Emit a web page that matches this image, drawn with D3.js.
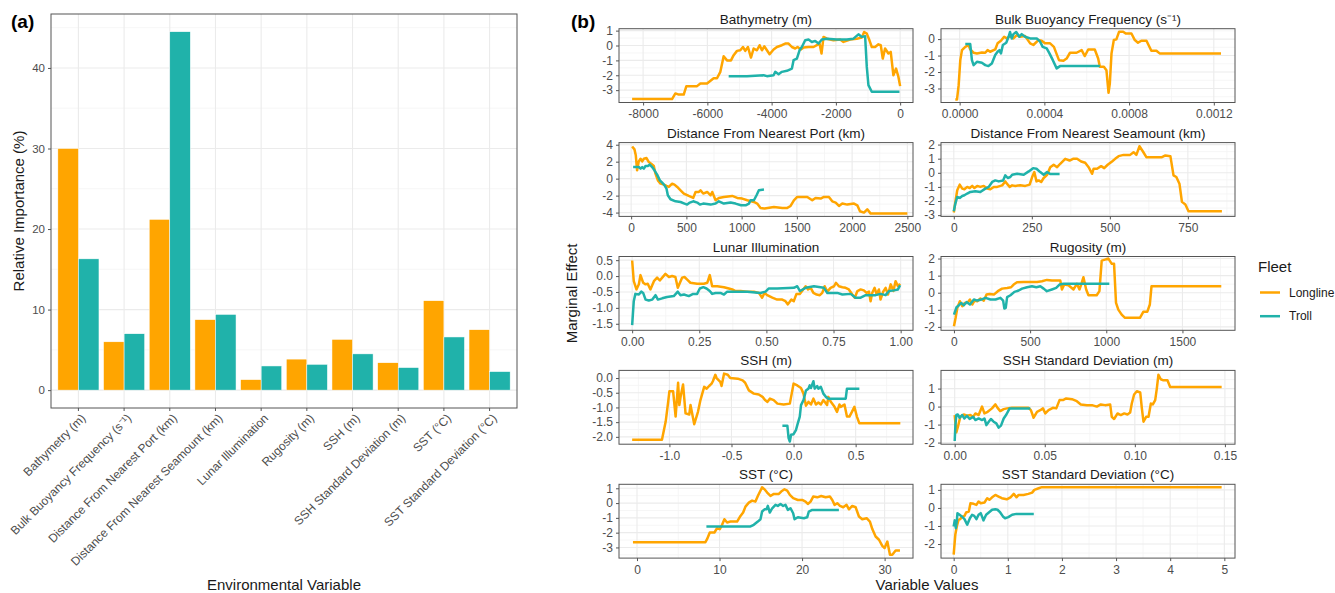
<!DOCTYPE html>
<html>
<head>
<meta charset="utf-8">
<script src="https://cdn.jsdelivr.net/npm/d3@7"></script>
<style>
  body { margin: 0; background: #fff; }
  svg { display: block; font-family: "Liberation Sans", Arial, sans-serif; }
</style>
</head>
<body>
<div id="chart"></div>
<script>
// ---- panel (a) data ----
const variables = [
  'Bathymetry (m)', 'Bulk Buoyancy Frequency (s\u207B\u00B9)', 'Distance From Nearest Port (km)',
  'Distance From Nearest Seamount (km)', 'Lunar Illumination', 'Rugosity (m)', 'SSH (m)',
  'SSH Standard Deviation (m)', 'SST (\u00B0C)', 'SST Standard Deviation (\u00B0C)'
];
const longlineImportance = [30.0, 6.0, 21.2, 8.75, 1.3, 3.85, 6.3, 3.4, 11.1, 7.5];
const trollImportance = [16.3, 7.0, 44.5, 9.4, 3.0, 3.2, 4.5, 2.8, 6.6, 2.3];
const importanceTicks = [0, 10, 20, 30, 40];
const fleets = ['Longline', 'Troll'];

// ---- panel (b) data: [variable value, marginal effect] ----
const bathyLongline = [[-8342,-3.6],[-7099,-3.6],[-6995,-3.22],[-6891,-3.3],[-6736,-3.3],[-6653,-2.73],[-6321,-2.73],[-6217,-2.55],[-6010,-2.55],[-5804,-2.2],[-5700,-2.2],[-5596,-1.77],[-5493,-0.72],[-5389,-1.0],[-5265,-1.0],[-5182,-0.65],[-5078,-0.36],[-4975,-0.32],[-4892,-0.1],[-4820,-0.36],[-4737,-0.1],[-4643,-0.81],[-4560,-0.2],[-4457,-0.32],[-4374,0.02],[-4301,-0.32],[-4229,-0.05],[-4146,-0.32],[-4063,-0.59],[-3939,-0.27],[-3835,-0.1],[-3680,0.02],[-3576,0.13],[-3473,0.13],[-3369,-0.1],[-3266,-0.2],[-3193,-0.1],[-3089,-0.27],[-3006,-0.14],[-2851,-0.1],[-2696,-0.1],[-2592,0.02],[-2509,0.13],[-2447,-0.54],[-2385,0.58],[-2281,0.46],[-2074,0.35],[-1867,0.4],[-1764,0.24],[-1557,0.4],[-1350,0.46],[-1194,0.53],[-1121,0.91],[-1038,0.8],[-955,0.35],[-883,-0.1],[-779,-0.1],[-676,0.08],[-603,0.02],[-541,-0.88],[-469,-0.2],[-365,-0.54],[-293,-0.43],[-210,-2.0],[-127,-1.55],[-55,-2.1],[0,-2.73]];
const bathyTroll = [[-5337,-2.06],[-4767,-2.06],[-4250,-2.0],[-4146,-2.06],[-3939,-2.0],[-3887,-1.77],[-3783,-1.93],[-3680,-1.77],[-3524,-1.7],[-3369,-1.55],[-3317,-0.99],[-3214,-0.88],[-3131,-0.32],[-3059,-0.1],[-2955,0.35],[-2851,0.4],[-2748,0.24],[-2644,0.31],[-2540,0.13],[-2437,0.4],[-2281,0.46],[-1970,0.4],[-1660,0.4],[-1453,0.46],[-1298,0.75],[-1194,0.58],[-1090,0.62],[-1038,-1.44],[-987,-2.66],[-883,-3.11],[-21,-3.11]];

const buoyLongline = [[-0.0000204,-3.67],[-0.0000125,-3.67],[-0.0000047,-2.8],[0.0000031,-1.28],[0.000011,-0.67],[0.0000267,-0.47],[0.0000424,-0.36],[0.00005,-0.63],[0.0000659,-0.83],[0.0000816,-0.87],[0.000105,-0.81],[0.000121,-0.83],[0.000132,-0.67],[0.000144,-0.77],[0.000168,-0.63],[0.000179,-0.26],[0.000195,-0.1],[0.00021,0.14],[0.000223,0.04],[0.000238,0.18],[0.000254,0.04],[0.00027,0.24],[0.000285,0.14],[0.000309,0.18],[0.000333,-0.26],[0.000348,-0.36],[0.000372,-0.06],[0.000387,-0.1],[0.000403,-0.26],[0.000427,-0.26],[0.000445,-0.47],[0.000458,-0.91],[0.000469,-1.28],[0.00049,-1.32],[0.000505,-1.18],[0.000521,-0.83],[0.000552,-0.83],[0.000576,-0.67],[0.000591,-1.03],[0.000607,-0.63],[0.000638,-0.63],[0.000654,-1.18],[0.000662,-1.68],[0.000681,-1.68],[0.000693,-1.89],[0.000703,-3.26],[0.000709,-2.7],[0.000717,-0.87],[0.000728,-0.06],[0.00074,-0.02],[0.000753,0.45],[0.000772,0.45],[0.000784,0.34],[0.000811,0.34],[0.000827,-0.06],[0.000842,-0.22],[0.000858,-0.1],[0.000882,-0.1],[0.000905,-0.71],[0.000929,-0.71],[0.000944,-0.87],[0.001234,-0.87]];
const buoyTroll = [[0.0000267,-0.3],[0.00005,-0.3],[0.000058,-1.28],[0.0000659,-1.58],[0.0000816,-1.38],[0.000105,-1.44],[0.000121,-1.58],[0.000136,-1.64],[0.000152,-1.48],[0.000168,-0.97],[0.000179,-0.77],[0.000188,-0.67],[0.000195,-0.87],[0.000204,-0.36],[0.00022,-0.22],[0.000231,0.14],[0.000238,0.43],[0.000246,0.04],[0.000254,0.3],[0.000267,0.43],[0.000282,0.14],[0.000293,0.3],[0.000309,0.14],[0.000333,0.04],[0.000364,0.04],[0.00038,-0.16],[0.000392,-0.47],[0.000411,-0.57],[0.000424,-0.87],[0.00044,-1.28],[0.000458,-1.78],[0.000474,-1.64],[0.000662,-1.64]];

const portLongline = [[9,3.8],[30,3.45],[42,2.75],[54,0.98],[69,2.04],[85,2.35],[100,2.04],[115,2.35],[139,2.43],[160,1.96],[181,1.76],[205,1.49],[220,0.59],[242,-0.2],[266,-0.59],[296,-0.7],[320,-0.86],[341,-0.98],[371,-0.59],[392,-0.7],[417,-0.98],[447,-1.37],[477,-1.76],[522,-2.04],[562,-2.27],[583,-1.57],[613,-1.57],[628,-1.37],[652,-1.76],[688,-1.57],[719,-1.96],[734,-1.57],[764,-2.55],[794,-2.27],[839,-2.16],[915,-2.04],[960,-2.27],[1005,-2.35],[1051,-2.55],[1111,-2.75],[1141,-2.94],[1171,-3.45],[1208,-3.53],[1292,-3.33],[1368,-3.45],[1413,-3.45],[1443,-3.22],[1473,-2.55],[1503,-2.16],[1594,-2.16],[1639,-2.55],[1669,-2.27],[1715,-2.35],[1745,-2.16],[1790,-2.16],[1820,-2.67],[1851,-2.82],[1881,-3.22],[1911,-2.94],[1956,-3.06],[2017,-2.94],[2047,-3.14],[2071,-3.84],[2107,-4.0],[2137,-3.61],[2168,-4.12],[2500,-4.12]];
const portTroll = [[18,1.37],[69,1.37],[85,1.18],[100,1.37],[115,1.18],[130,1.49],[151,1.49],[169,1.65],[190,1.37],[211,0.98],[235,0.47],[260,-0.2],[281,-0.47],[302,-0.78],[320,-1.18],[332,-1.96],[356,-2.43],[402,-2.67],[447,-2.75],[483,-2.94],[507,-3.06],[531,-2.82],[562,-2.67],[598,-2.82],[622,-3.06],[652,-2.94],[719,-3.06],[764,-2.94],[794,-2.67],[839,-2.94],[900,-2.82],[945,-2.94],[994,-3.14],[1036,-3.14],[1066,-2.94],[1081,-2.55],[1111,-2.55],[1135,-1.96],[1156,-1.37],[1202,-1.29]];

const seamountLongline = [[0,-2.81],[5,-2.06],[11,-1.24],[19,-0.84],[27,-1.12],[34,-1.17],[43,-1.0],[51,-1.08],[59,-0.93],[66,-1.08],[75,-0.93],[85,-1.0],[96,-0.93],[107,-1.12],[117,-1.17],[128,-1.0],[139,-1.0],[155,-0.89],[165,-0.61],[173,-0.84],[179,-1.0],[187,-0.89],[197,-0.93],[213,-0.89],[229,-0.93],[243,-0.84],[251,-0.3],[258,0.05],[265,-0.61],[272,-0.54],[280,-0.65],[288,-0.37],[299,-0.14],[309,0.4],[320,0.57],[331,0.4],[341,0.64],[357,0.99],[371,0.87],[382,0.99],[395,0.99],[408,0.8],[421,0.71],[432,0.4],[443,-0.07],[448,0.29],[459,0.29],[472,0.47],[482,0.33],[493,0.57],[507,0.8],[517,0.99],[528,1.18],[544,1.27],[565,1.27],[576,1.46],[585,1.27],[595,1.88],[606,1.51],[617,1.11],[651,1.11],[667,1.11],[678,1.23],[694,1.18],[704,-0.18],[713,-0.3],[723,-0.77],[731,-2.06],[742,-2.25],[752,-2.72],[859,-2.72]];
const seamountTroll = [[0,-2.72],[5,-2.18],[11,-1.71],[19,-1.78],[27,-1.64],[34,-1.59],[43,-1.47],[53,-1.36],[69,-1.31],[85,-1.36],[101,-1.12],[112,-1.0],[123,-0.65],[133,-0.54],[144,-0.61],[158,-0.54],[165,-0.18],[173,-0.37],[181,-0.3],[187,-0.14],[203,-0.07],[224,-0.14],[240,0.1],[254,0.33],[265,0.29],[277,0.05],[288,-0.14],[299,0.05],[309,-0.09],[339,-0.09]];

const lunarLongline = [[0,0.49],[0.006,-0.16],[0.016,-0.42],[0.025,-0.26],[0.031,0.03],[0.041,-0.21],[0.05,-0.26],[0.058,-0.24],[0.068,-0.42],[0.081,-0.16],[0.093,-0.05],[0.103,-0.14],[0.112,-0.05],[0.124,0.07],[0.137,-0.03],[0.149,0.0],[0.161,-0.03],[0.17,-0.37],[0.178,-0.21],[0.186,-0.05],[0.195,-0.03],[0.205,-0.11],[0.217,-0.21],[0.242,-0.24],[0.267,-0.24],[0.28,-0.21],[0.289,0.03],[0.298,-0.32],[0.317,-0.32],[0.342,-0.35],[0.36,-0.39],[0.373,-0.42],[0.385,-0.47],[0.404,-0.47],[0.429,-0.49],[0.453,-0.49],[0.472,-0.53],[0.484,-0.68],[0.493,-0.53],[0.503,-0.6],[0.522,-0.68],[0.54,-0.74],[0.559,-0.74],[0.571,-0.79],[0.58,-0.89],[0.593,-0.74],[0.602,-0.79],[0.612,-0.56],[0.625,-0.56],[0.637,-0.42],[0.646,-0.32],[0.655,-0.42],[0.665,-0.37],[0.675,-0.53],[0.687,-0.58],[0.699,-0.6],[0.708,-0.53],[0.717,-0.32],[0.727,-0.49],[0.739,-0.37],[0.752,-0.32],[0.759,-0.21],[0.77,-0.32],[0.783,-0.35],[0.795,-0.37],[0.807,-0.42],[0.82,-0.58],[0.829,-0.68],[0.839,-0.47],[0.851,-0.42],[0.863,-0.45],[0.873,-0.53],[0.882,-0.49],[0.888,-0.79],[0.894,-0.53],[0.903,-0.37],[0.911,-0.58],[0.919,-0.42],[0.925,-0.74],[0.935,-0.49],[0.944,-0.37],[0.953,-0.58],[0.963,-0.26],[0.973,-0.47],[0.981,-0.16],[0.99,-0.32],[0.998,-0.24]];
const lunarTroll = [[0,-1.54],[0.006,-0.79],[0.012,-0.56],[0.025,-0.58],[0.034,-0.49],[0.041,-0.53],[0.05,-0.74],[0.062,-0.77],[0.075,-0.74],[0.087,-0.6],[0.096,-0.74],[0.112,-0.7],[0.13,-0.66],[0.155,-0.63],[0.17,-0.49],[0.18,-0.6],[0.193,-0.58],[0.211,-0.63],[0.227,-0.56],[0.242,-0.56],[0.252,-0.39],[0.265,-0.35],[0.277,-0.39],[0.289,-0.47],[0.298,-0.56],[0.311,-0.53],[0.329,-0.53],[0.342,-0.58],[0.354,-0.49],[0.379,-0.49],[0.429,-0.49],[0.478,-0.53],[0.497,-0.49],[0.509,-0.39],[0.54,-0.39],[0.602,-0.37],[0.615,-0.32],[0.625,-0.47],[0.646,-0.37],[0.677,-0.32],[0.714,-0.37],[0.727,-0.53],[0.764,-0.53],[0.783,-0.58],[0.814,-0.56],[0.832,-0.68],[0.851,-0.68],[0.87,-0.6],[0.907,-0.6],[0.925,-0.56],[0.944,-0.6],[0.957,-0.47],[0.975,-0.45],[0.99,-0.42],[0.998,-0.29]];

const rugosityLongline = [[0,-1.96],[11,-1.47],[22,-0.89],[39,-0.5],[55,-0.79],[70,-0.6],[87,-0.6],[105,-0.4],[120,-0.69],[135,-0.46],[153,-0.5],[174,-0.34],[196,-0.46],[214,-0.11],[235,-0.07],[262,-0.11],[288,0.09],[316,0.24],[349,0.28],[375,0.32],[392,0.48],[414,0.61],[458,0.63],[501,0.63],[545,0.63],[578,0.67],[610,0.75],[643,0.71],[698,0.71],[709,0.19],[724,0.48],[752,0.44],[785,0.19],[807,0.52],[824,0.19],[839,0.58],[850,0.91],[868,0.19],[883,-0.15],[937,-0.15],[955,0.09],[970,1.88],[992,1.94],[1014,2.0],[1036,1.69],[1051,1.69],[1064,-0.6],[1079,-0.99],[1101,-1.28],[1123,-1.47],[1221,-1.47],[1243,-1.12],[1269,-1.12],[1286,-0.69],[1297,0.38],[1755,0.38]];
const rugosityTroll = [[0,-1.28],[17,-0.85],[33,-0.73],[48,-0.6],[65,-0.73],[83,-0.54],[105,-0.69],[131,-0.4],[153,-0.46],[179,-0.4],[207,-0.3],[240,-0.4],[273,-0.4],[305,-0.3],[323,-0.46],[331,-0.93],[340,-0.89],[349,-0.26],[371,-0.15],[397,0.05],[425,0.13],[447,0.24],[480,0.32],[512,0.38],[541,0.32],[567,0.38],[589,0.24],[610,0.09],[643,0.19],[671,0.28],[693,0.48],[719,0.52],[1020,0.52]];

const sshLongline = [[-1.3,-2.1],[-1.06,-2.1],[-1.03,-1.48],[-1.01,-0.81],[-1.0,-0.45],[-0.97,-0.45],[-0.95,-1.31],[-0.93,-0.16],[-0.92,-0.92],[-0.91,-0.64],[-0.89,-0.22],[-0.87,-1.2],[-0.84,-1.24],[-0.83,-0.92],[-0.8,-1.57],[-0.77,-1.15],[-0.75,-0.75],[-0.72,-0.3],[-0.7,-0.36],[-0.68,-0.27],[-0.66,-0.19],[-0.65,-0.11],[-0.63,0.11],[-0.62,0.0],[-0.59,-0.13],[-0.58,-0.27],[-0.56,0.15],[-0.53,0.11],[-0.51,0.0],[-0.45,-0.02],[-0.41,-0.08],[-0.39,-0.16],[-0.36,-0.42],[-0.32,-0.53],[-0.28,-0.56],[-0.25,-0.64],[-0.23,-0.75],[-0.21,-0.81],[-0.19,-0.7],[-0.16,-0.75],[-0.13,-0.87],[-0.08,-0.9],[-0.03,-0.87],[0.0,-0.19],[0.03,-0.25],[0.06,-0.34],[0.08,-0.53],[0.1,-0.94],[0.12,-0.81],[0.14,-0.9],[0.16,-0.7],[0.18,-0.9],[0.2,-0.83],[0.22,-0.9],[0.24,-0.75],[0.27,-0.92],[0.28,-0.64],[0.3,-0.81],[0.33,-0.98],[0.35,-1.15],[0.37,-0.9],[0.38,-0.98],[0.41,-0.9],[0.43,-1.31],[0.45,-1.31],[0.47,-1.15],[0.49,-0.98],[0.51,-1.31],[0.53,-1.54],[0.86,-1.54]];
const sshTroll = [[-0.09,-1.62],[-0.05,-1.62],[-0.04,-2.04],[-0.03,-2.16],[-0.02,-1.93],[0.0,-1.91],[0.02,-1.76],[0.03,-1.6],[0.05,-1.31],[0.06,-0.92],[0.08,-0.75],[0.1,-0.42],[0.12,-0.36],[0.13,-0.25],[0.14,-0.34],[0.16,-0.11],[0.17,-0.36],[0.19,-0.27],[0.2,-0.36],[0.22,-0.3],[0.24,-0.53],[0.26,-0.64],[0.28,-0.7],[0.42,-0.7],[0.43,-0.36],[0.53,-0.36]];

const sshSdLongline = [[0.0,-0.47],[0.0009,-1.43],[0.0018,-1.12],[0.0031,-0.57],[0.005,-0.44],[0.0068,-0.51],[0.0087,-0.47],[0.0102,-0.57],[0.0115,-0.38],[0.0133,-0.47],[0.0152,0.0],[0.0165,-0.38],[0.0183,-0.29],[0.0207,-0.1],[0.0226,0.12],[0.0238,-0.07],[0.0253,-0.25],[0.0272,-0.14],[0.029,-0.1],[0.0318,-0.07],[0.0364,-0.07],[0.041,-0.07],[0.0423,-0.2],[0.0438,-0.62],[0.0457,-0.29],[0.0475,-0.2],[0.049,-0.1],[0.0503,-0.38],[0.0521,-0.2],[0.0545,-0.07],[0.0564,-0.1],[0.0582,0.36],[0.0601,0.36],[0.0619,0.45],[0.0651,0.41],[0.0678,0.3],[0.07,0.12],[0.0734,0.08],[0.0762,0.08],[0.0789,0.0],[0.0811,0.12],[0.0835,0.08],[0.0863,0.12],[0.0872,-0.57],[0.0885,-0.69],[0.0904,-0.38],[0.0922,-0.47],[0.0941,-0.38],[0.0959,-0.44],[0.0974,-0.33],[0.0983,0.17],[0.0996,0.67],[0.1011,0.85],[0.103,0.78],[0.1039,-0.1],[0.1048,-0.84],[0.1063,-0.57],[0.1076,-0.57],[0.1089,0.17],[0.11,0.12],[0.1113,0.36],[0.1122,1.0],[0.1131,1.77],[0.1144,1.52],[0.1159,1.46],[0.1181,1.46],[0.1196,1.09],[0.1482,1.09]];
const sshSdTroll = [[0.0,-1.91],[0.0004,-1.03],[0.0009,-0.47],[0.0017,-0.44],[0.0028,-0.62],[0.0041,-0.47],[0.0054,-0.66],[0.0068,-0.51],[0.0083,-0.69],[0.0102,-0.57],[0.0115,-0.75],[0.0133,-0.66],[0.0152,-0.75],[0.0165,-0.66],[0.0176,-1.03],[0.0189,-0.84],[0.0201,-0.69],[0.0216,-0.84],[0.0231,-0.93],[0.0244,-1.17],[0.0257,-1.06],[0.0272,-0.66],[0.0287,-0.44],[0.0305,-0.1],[0.042,-0.1]];

const sstLongline = [[-0.49,-2.64],[8.29,-2.64],[8.49,-2.44],[8.82,-1.99],[9.38,-1.99],[9.7,-1.7],[10.03,-1.76],[10.31,-1.47],[10.59,-1.09],[10.92,-1.31],[11.32,-1.25],[12.13,-1.25],[12.54,-0.87],[12.86,-0.64],[13.14,-0.24],[13.55,0.03],[13.95,0.17],[14.35,0.1],[14.64,0.48],[15.16,1.07],[15.45,0.93],[15.77,0.71],[16.17,0.48],[16.58,0.62],[17.19,0.62],[17.47,0.78],[17.87,0.93],[18.2,0.84],[18.52,0.55],[18.92,0.33],[19.49,0.21],[20.02,0.21],[20.42,0.1],[20.7,-0.06],[21.03,0.1],[21.35,0.44],[21.84,0.39],[22.32,0.48],[22.85,0.39],[23.37,0.44],[23.66,0.21],[23.94,-0.12],[24.26,-0.01],[24.59,-0.19],[24.99,-0.28],[25.39,-0.12],[25.68,-0.42],[26.08,-0.19],[26.49,-0.28],[26.89,-0.91],[27.29,-1.09],[27.82,-1.02],[28.22,-1.25],[28.51,-1.76],[28.91,-2.26],[29.32,-2.48],[29.72,-2.89],[30.0,-3.04],[30.33,-2.6],[30.65,-3.49],[30.93,-3.49],[31.34,-3.2],[31.86,-3.2]];
const sstTroll = [[8.41,-1.58],[13.75,-1.58],[14.15,-1.47],[14.64,-1.25],[14.96,-1.09],[15.16,-0.57],[15.45,-0.42],[15.69,-0.42],[15.85,-0.19],[16.09,-0.64],[16.38,-0.35],[16.78,-0.12],[17.06,-0.19],[17.39,-0.06],[17.71,-0.19],[17.99,-0.12],[18.28,-0.46],[18.6,-0.35],[18.92,-0.69],[19.09,-1.09],[19.49,-0.96],[20.22,-1.02],[20.62,-0.96],[20.82,-0.57],[21.23,-0.46],[24.46,-0.46]];

const sstSdLongline = [[0,-2.59],[0.03,-1.49],[0.06,-0.99],[0.09,-0.66],[0.12,-0.62],[0.15,-0.51],[0.2,-0.44],[0.23,-0.25],[0.28,-0.2],[0.31,0.26],[0.37,0.23],[0.42,0.17],[0.46,0.36],[0.5,0.26],[0.57,0.3],[0.62,0.54],[0.66,0.45],[0.71,0.59],[0.77,0.72],[0.83,0.63],[0.89,0.54],[0.98,0.48],[1.05,0.59],[1.11,0.78],[1.16,0.59],[1.2,0.72],[1.29,0.72],[1.38,0.78],[1.45,0.85],[1.49,1.0],[1.57,1.09],[1.63,1.15],[4.95,1.15]];
const sstSdTroll = [[0,-1.03],[0.02,-0.69],[0.04,-1.12],[0.06,-0.66],[0.07,-0.29],[0.11,-0.38],[0.15,-0.47],[0.2,-0.62],[0.25,-0.93],[0.3,-0.57],[0.34,-0.38],[0.38,-0.44],[0.42,-0.62],[0.46,-0.38],[0.5,-0.29],[0.55,-0.69],[0.6,-0.38],[0.65,-0.25],[0.71,-0.1],[0.77,-0.07],[0.81,-0.1],[0.86,-0.25],[0.91,-0.47],[0.95,-0.57],[1.01,-0.51],[1.08,-0.38],[1.16,-0.33],[1.29,-0.33],[1.48,-0.33]];

// facet definitions: title, scale domains, tick values, label format
const facets = [
  { title: 'Bathymetry (m)', xDomain: [-8750, 400], yDomain: [-3.83, 1.13], xTicks: [-8000, -6000, -4000, -2000, 0], yTicks: [-3, -2, -1, 0, 1], xFmt: 'd', yFmt: 'd', longline: bathyLongline, troll: bathyTroll },
  { title: 'Bulk Buoyancy Frequency (s\u207B\u00B9)', xDomain: [-0.000088, 0.0013], yDomain: [-3.85, 0.63], xTicks: [0, 0.0004, 0.0008, 0.0012], yTicks: [-3, -2, -1, 0], xFmt: '.4f', yFmt: 'd', longline: buoyLongline, troll: buoyTroll },
  { title: 'Distance From Nearest Port (km)', xDomain: [-110, 2551], yDomain: [-4.45, 4.25], xTicks: [0, 500, 1000, 1500, 2000, 2500], yTicks: [-4, -2, 0, 2, 4], xFmt: 'd', yFmt: 'd', longline: portLongline, troll: portTroll },
  { title: 'Distance From Nearest Seamount (km)', xDomain: [-41, 901], yDomain: [-3.09, 2.14], xTicks: [0, 250, 500, 750], yTicks: [-3, -2, -1, 0, 1, 2], xFmt: 'd', yFmt: 'd', longline: seamountLongline, troll: seamountTroll },
  { title: 'Lunar Illumination', xDomain: [-0.049, 1.046], yDomain: [-1.705, 0.615], xTicks: [0, 0.25, 0.5, 0.75, 1], yTicks: [-1.5, -1, -0.5, 0, 0.5], xFmt: '.2f', yFmt: '.1f', longline: lunarLongline, troll: lunarTroll },
  { title: 'Rugosity (m)', xDomain: [-85, 1845], yDomain: [-2.2, 2.12], xTicks: [0, 500, 1000, 1500], yTicks: [-2, -1, 0, 1, 2], xFmt: 'd', yFmt: 'd', longline: rugosityLongline, troll: rugosityTroll },
  { title: 'SSH (m)', xDomain: [-1.406, 0.962], yDomain: [-2.25, 0.26], xTicks: [-1, -0.5, 0, 0.5], yTicks: [-2, -1.5, -1, -0.5, 0], xFmt: '.1f', yFmt: '.1f', longline: sshLongline, troll: sshTroll },
  { title: 'SSH Standard Deviation (m)', xDomain: [-0.0076, 0.1556], yDomain: [-2.09, 2.01], xTicks: [0, 0.05, 0.1, 0.15], yTicks: [-2, -1, 0, 1], xFmt: '.2f', yFmt: 'd', longline: sshSdLongline, troll: sshSdTroll },
  { title: 'SST (\u00B0C)', xDomain: [-2.18, 33.44], yDomain: [-3.72, 1.27], xTicks: [0, 10, 20, 30], yTicks: [-3, -2, -1, 0, 1], xFmt: 'd', yFmt: 'd', longline: sstLongline, troll: sstTroll },
  { title: 'SST Standard Deviation (\u00B0C)', xDomain: [-0.234, 5.197], yDomain: [-2.78, 1.31], xTicks: [0, 1, 2, 3, 4, 5], yTicks: [-2, -1, 0, 1], xFmt: 'd', yFmt: 'd', longline: sstSdLongline, troll: sstSdTroll }
];

// ---- drawing ----
const W = 1335, H = 593;
const colors = { Longline: '#FFA500', Troll: '#20B2AA' };
const textDark = '#1a1a1a', tickText = '#4d4d4d', frame = '#555', gridMajor = '#ebebeb', gridMinor = '#f4f4f4';
const fmt = f => d => d3.format(f)(d).replace('\u2212', '-');

function minorTicks(ticks, domain) {
  const step = ticks[1] - ticks[0];
  const out = [];
  for (let v = ticks[0] - step / 2; v <= domain[1]; v += step) {
    if (v >= domain[0]) out.push(v);
  }
  return out;
}

const svg = d3.select('#chart').append('svg')
  .attr('width', W)
  .attr('height', H);

svg.append('rect').attr('width', W).attr('height', H).attr('fill', '#fff');

// ===== Panel (a) =====
const pa = { left: 51, top: 14, right: 517, bottom: 408 };

const xBand = d3.scaleBand()
  .domain(variables)
  .range([pa.left, pa.right])
  .paddingInner(0.1)
  .paddingOuter(0.15);

const xFleet = d3.scaleBand()
  .domain(fleets)
  .range([0, xBand.bandwidth()]);

const yImp = d3.scaleLinear()
  .domain([-2.22, 46.7])
  .range([pa.bottom, pa.top]);

const ga = svg.append('g');

ga.selectAll('.minor')
  .data(minorTicks(importanceTicks, yImp.domain()))
  .join('line')
  .attr('x1', pa.left).attr('x2', pa.right)
  .attr('y1', d => yImp(d)).attr('y2', d => yImp(d))
  .attr('stroke', gridMinor).attr('stroke-width', 0.8);

ga.selectAll('.hmajor')
  .data(importanceTicks)
  .join('line')
  .attr('x1', pa.left).attr('x2', pa.right)
  .attr('y1', d => yImp(d)).attr('y2', d => yImp(d))
  .attr('stroke', gridMajor).attr('stroke-width', 1.1);

ga.selectAll('.vmajor')
  .data(variables)
  .join('line')
  .attr('x1', d => xBand(d) + xBand.bandwidth() / 2)
  .attr('x2', d => xBand(d) + xBand.bandwidth() / 2)
  .attr('y1', pa.top).attr('y2', pa.bottom)
  .attr('stroke', gridMajor).attr('stroke-width', 1.1);

const barData = [];
variables.forEach((v, i) => {
  barData.push({ variable: v, fleet: 'Longline', value: longlineImportance[i] });
  barData.push({ variable: v, fleet: 'Troll', value: trollImportance[i] });
});

ga.selectAll('.bar')
  .data(barData)
  .join('rect')
  .attr('x', d => xBand(d.variable) + xFleet(d.fleet))
  .attr('width', xFleet.bandwidth())
  .attr('y', d => yImp(d.value))
  .attr('height', d => yImp(0) - yImp(d.value))
  .attr('fill', d => colors[d.fleet])
  .attr('stroke', '#fff')
  .attr('stroke-width', 0.5);

ga.append('rect')
  .attr('x', pa.left).attr('y', pa.top)
  .attr('width', pa.right - pa.left).attr('height', pa.bottom - pa.top)
  .attr('fill', 'none').attr('stroke', frame).attr('stroke-width', 1);

// y axis
const yAxisA = ga.append('g')
  .attr('transform', `translate(${pa.left},0)`)
  .call(d3.axisLeft(yImp).tickValues(importanceTicks).tickSize(3).tickPadding(3).tickFormat(fmt('d')));
yAxisA.attr('font-family', null);
yAxisA.select('.domain').remove();
yAxisA.selectAll('line').attr('stroke', frame);
yAxisA.selectAll('text').attr('fill', tickText).attr('font-size', 11.5);

// x ticks + rotated labels
ga.selectAll('.xtick')
  .data(variables)
  .join('line')
  .attr('x1', d => xBand(d) + xBand.bandwidth() / 2)
  .attr('x2', d => xBand(d) + xBand.bandwidth() / 2)
  .attr('y1', pa.bottom).attr('y2', pa.bottom + 3)
  .attr('stroke', frame);

ga.selectAll('.xlab')
  .data(variables)
  .join('text')
  .attr('transform', d => `translate(${xBand(d) + xBand.bandwidth() / 2 + 2},${pa.bottom + 5}) rotate(-45)`)
  .attr('text-anchor', 'end')
  .attr('dy', '0.7em')
  .attr('font-size', 12)
  .attr('fill', tickText)
  .text(d => d);

ga.append('text')
  .attr('transform', `translate(24,${(pa.top + pa.bottom) / 2}) rotate(-90)`)
  .attr('text-anchor', 'middle')
  .attr('font-size', 15)
  .attr('fill', textDark)
  .text('Relative Importance (%)');

ga.append('text')
  .attr('x', 284).attr('y', 590)
  .attr('text-anchor', 'middle')
  .attr('font-size', 15)
  .attr('fill', textDark)
  .text('Environmental Variable');

svg.append('text')
  .attr('x', 11).attr('y', 28)
  .attr('font-size', 19).attr('font-weight', 'bold')
  .attr('fill', '#000')
  .text('(a)');

// ===== Panel (b) =====
svg.append('text')
  .attr('x', 571).attr('y', 28)
  .attr('font-size', 19).attr('font-weight', 'bold')
  .attr('fill', '#000')
  .text('(b)');

const colLeft = [619, 941];
const panelW = 294;
const rowTop = 28.7, rowStep = 113.9, panelH = 73.8;

facets.forEach((f, i) => {
  const col = i % 2, row = Math.floor(i / 2);
  const x0 = colLeft[col], y0 = rowTop + row * rowStep;

  const x = d3.scaleLinear().domain(f.xDomain).range([x0, x0 + panelW]);
  const y = d3.scaleLinear().domain(f.yDomain).range([y0 + panelH, y0]);

  const g = svg.append('g');

  // grid
  g.selectAll('.xminor').data(minorTicks(f.xTicks, f.xDomain)).join('line')
    .attr('x1', d => x(d)).attr('x2', d => x(d)).attr('y1', y0).attr('y2', y0 + panelH)
    .attr('stroke', gridMinor).attr('stroke-width', 0.8);
  g.selectAll('.yminor').data(minorTicks(f.yTicks, f.yDomain)).join('line')
    .attr('x1', x0).attr('x2', x0 + panelW).attr('y1', d => y(d)).attr('y2', d => y(d))
    .attr('stroke', gridMinor).attr('stroke-width', 0.8);
  g.selectAll('.xmajor').data(f.xTicks).join('line')
    .attr('x1', d => x(d)).attr('x2', d => x(d)).attr('y1', y0).attr('y2', y0 + panelH)
    .attr('stroke', gridMajor).attr('stroke-width', 1.1);
  g.selectAll('.ymajor').data(f.yTicks).join('line')
    .attr('x1', x0).attr('x2', x0 + panelW).attr('y1', d => y(d)).attr('y2', d => y(d))
    .attr('stroke', gridMajor).attr('stroke-width', 1.1);

  // lines
  const clipId = `clip-${i}`;
  svg.append('clipPath').attr('id', clipId)
    .append('rect').attr('x', x0).attr('y', y0).attr('width', panelW).attr('height', panelH);

  const line = d3.line().x(d => x(d[0])).y(d => y(d[1]));
  const lines = g.append('g').attr('clip-path', `url(#${clipId})`);
  lines.append('path')
    .datum(f.longline)
    .attr('d', line)
    .attr('fill', 'none')
    .attr('stroke', colors.Longline)
    .attr('stroke-width', 2.5)
    .attr('stroke-linejoin', 'round');
  lines.append('path')
    .datum(f.troll)
    .attr('d', line)
    .attr('fill', 'none')
    .attr('stroke', colors.Troll)
    .attr('stroke-width', 2.5)
    .attr('stroke-linejoin', 'round');

  g.append('rect')
    .attr('x', x0).attr('y', y0).attr('width', panelW).attr('height', panelH)
    .attr('fill', 'none').attr('stroke', frame).attr('stroke-width', 1);

  // axes
  const xa = g.append('g')
    .attr('transform', `translate(0,${y0 + panelH})`)
    .call(d3.axisBottom(x).tickValues(f.xTicks).tickSize(3).tickPadding(4).tickFormat(fmt(f.xFmt)));
  const ya = g.append('g')
    .attr('transform', `translate(${x0},0)`)
    .call(d3.axisLeft(y).tickValues(f.yTicks).tickSize(3).tickPadding(3).tickFormat(fmt(f.yFmt)));
  [xa, ya].forEach(ax => {
    ax.attr('font-family', null);
    ax.select('.domain').remove();
    ax.selectAll('line').attr('stroke', frame);
    ax.selectAll('text').attr('fill', tickText).attr('font-size', 12);
  });

  // strip title
  g.append('text')
    .attr('x', x0 + panelW / 2).attr('y', y0 - 5)
    .attr('text-anchor', 'middle')
    .attr('font-size', 13.5)
    .attr('fill', textDark)
    .text(f.title);
});

svg.append('text')
  .attr('transform', `translate(577,${rowTop + 2 * rowStep + panelH / 2}) rotate(-90)`)
  .attr('text-anchor', 'middle')
  .attr('font-size', 15)
  .attr('fill', textDark)
  .text('Marginal Effect');

svg.append('text')
  .attr('x', 927).attr('y', 590)
  .attr('text-anchor', 'middle')
  .attr('font-size', 15)
  .attr('fill', textDark)
  .text('Variable Values');

// legend
const legend = svg.append('g').attr('transform', 'translate(1258,0)');
legend.append('text')
  .attr('x', 0).attr('y', 272)
  .attr('font-size', 15)
  .attr('fill', textDark)
  .text('Fleet');

fleets.forEach((fl, i) => {
  const ly = 292.5 + i * 23.7;
  legend.append('line')
    .attr('x1', 2).attr('x2', 22)
    .attr('y1', ly).attr('y2', ly)
    .attr('stroke', colors[fl])
    .attr('stroke-width', 2.5);
  legend.append('text')
    .attr('x', 31).attr('y', ly)
    .attr('dy', '0.35em')
    .attr('font-size', 12)
    .attr('fill', textDark)
    .text(fl);
});
</script>
</body>
</html>
